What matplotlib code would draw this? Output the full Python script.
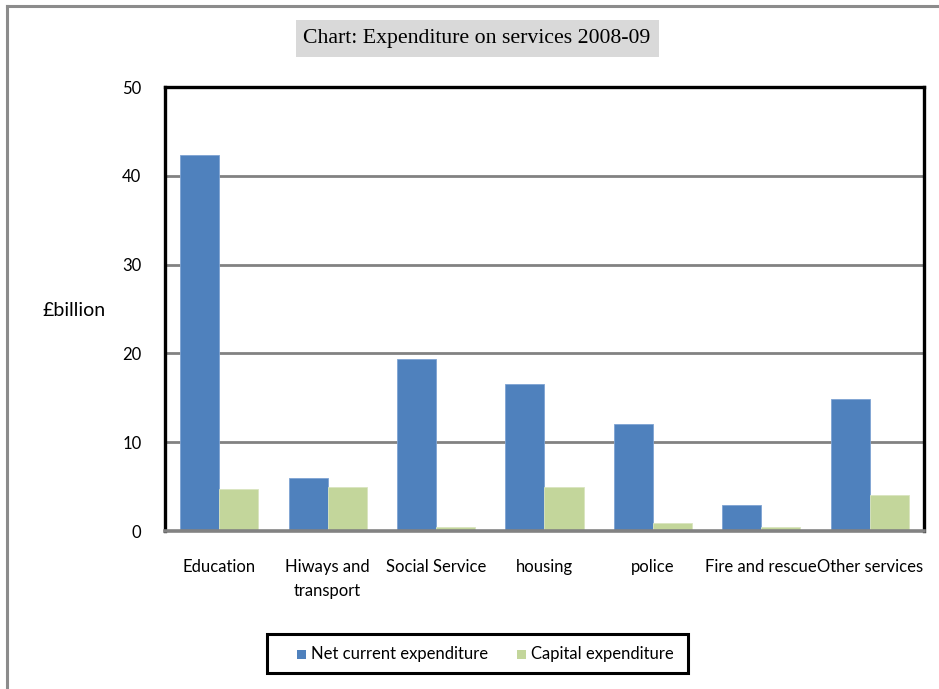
import matplotlib
matplotlib.use("Agg")
import matplotlib.pyplot as plt
from matplotlib.lines import Line2D
from matplotlib.patches import Rectangle
import numpy as np

categories = ["Education", "Hiways and\ntransport", "Social Service", "housing",
              "police", "Fire and rescue", "Other services"]
net_current = [42.3, 6.0, 19.35, 16.5, 12.0, 2.9, 14.9]
capital = [4.7, 4.9, 0.4, 4.9, 0.85, 0.4, 4.0]
series_names = ["Net current expenditure", "Capital expenditure"]
yticks = [0, 10, 20, 30, 40, 50]

blue = "#4F81BD"
green = "#C3D69B"
grid_gray = "#828282"
font = ["Lato", "DejaVu Sans"]

W, H = 939, 689
fig = plt.figure(figsize=(W / 100, H / 100), dpi=100)
fig.patch.set_facecolor("white")

# outer chart border (gray, left and top visible)
fig.add_artist(Line2D([7 / W, 7 / W], [0, 1 - 6 / H], color="#8C8C8C", lw=2.2,
                      transform=fig.transFigure))
fig.add_artist(Line2D([7 / W, 1], [1 - 6 / H, 1 - 6 / H], color="#8C8C8C", lw=2.2,
                      transform=fig.transFigure))

ax = fig.add_axes([165 / W, 1 - 531 / H, (924 - 165) / W, (531 - 87) / H])
x = np.arange(len(categories))
bw = 0.36
ax.bar(x - bw / 2, net_current, width=bw, color=blue, edgecolor="#7EA3D3",
       linewidth=0.6, zorder=3, label=series_names[0])
ax.bar(x + bw / 2, capital, width=bw, color=green, edgecolor="#D9E5C0",
       linewidth=0.6, zorder=3, label=series_names[1])

ax.set_xlim(-0.5, len(categories) - 0.5)
ax.set_ylim(0, 50)
ax.set_yticks(yticks)
ax.set_yticklabels([str(v) for v in yticks], fontsize=12, family=font)
ax.set_xticks(x)
ax.set_xticklabels(categories, fontsize=12, family=font, linespacing=1.6)
ax.tick_params(axis="y", length=0, pad=17)
ax.tick_params(axis="x", length=0, pad=20)
ax.yaxis.grid(True, color=grid_gray, lw=2.0, zorder=1)
ax.set_axisbelow(True)
for s in ["left", "top", "right"]:
    ax.spines[s].set_color("black")
    ax.spines[s].set_linewidth(2.4)
ax.spines["bottom"].set_color(grid_gray)
ax.spines["bottom"].set_linewidth(2.6)
ax.spines["bottom"].set_zorder(4)

fig.text(43 / W, 1 - 311 / H, "£billion", fontsize=14, family=font,
         ha="left", va="center")

# title with gray box
fig.add_artist(Rectangle((296 / W, 1 - 57 / H), (659 - 296) / W, 37 / H,
                         transform=fig.transFigure, facecolor="#D9D9D9",
                         edgecolor="none"))
fig.text(477 / W, 1 - 39 / H, "Chart: Expenditure on services 2008-09",
         fontsize=15.7, family=["Liberation Serif", "DejaVu Serif"],
         ha="center", va="center")

# legend box
fig.add_artist(Rectangle((267 / W, 1 - 673 / H), (688 - 267) / W, 39 / H,
                         transform=fig.transFigure, facecolor="white",
                         edgecolor="black", linewidth=2.2))
leg_y = 1 - 654 / H
sq = 9
for (lx, tx, col, name) in [(297, 311, blue, series_names[0]),
                            (517, 531, green, series_names[1])]:
    fig.add_artist(Rectangle((lx / W, leg_y - (sq / 2) / H), sq / W, sq / H,
                             transform=fig.transFigure, facecolor=col,
                             edgecolor="none"))
    fig.text(tx / W, leg_y, name, fontsize=12, family=font, ha="left",
             va="center")

fig.savefig("out.png", dpi=100)
